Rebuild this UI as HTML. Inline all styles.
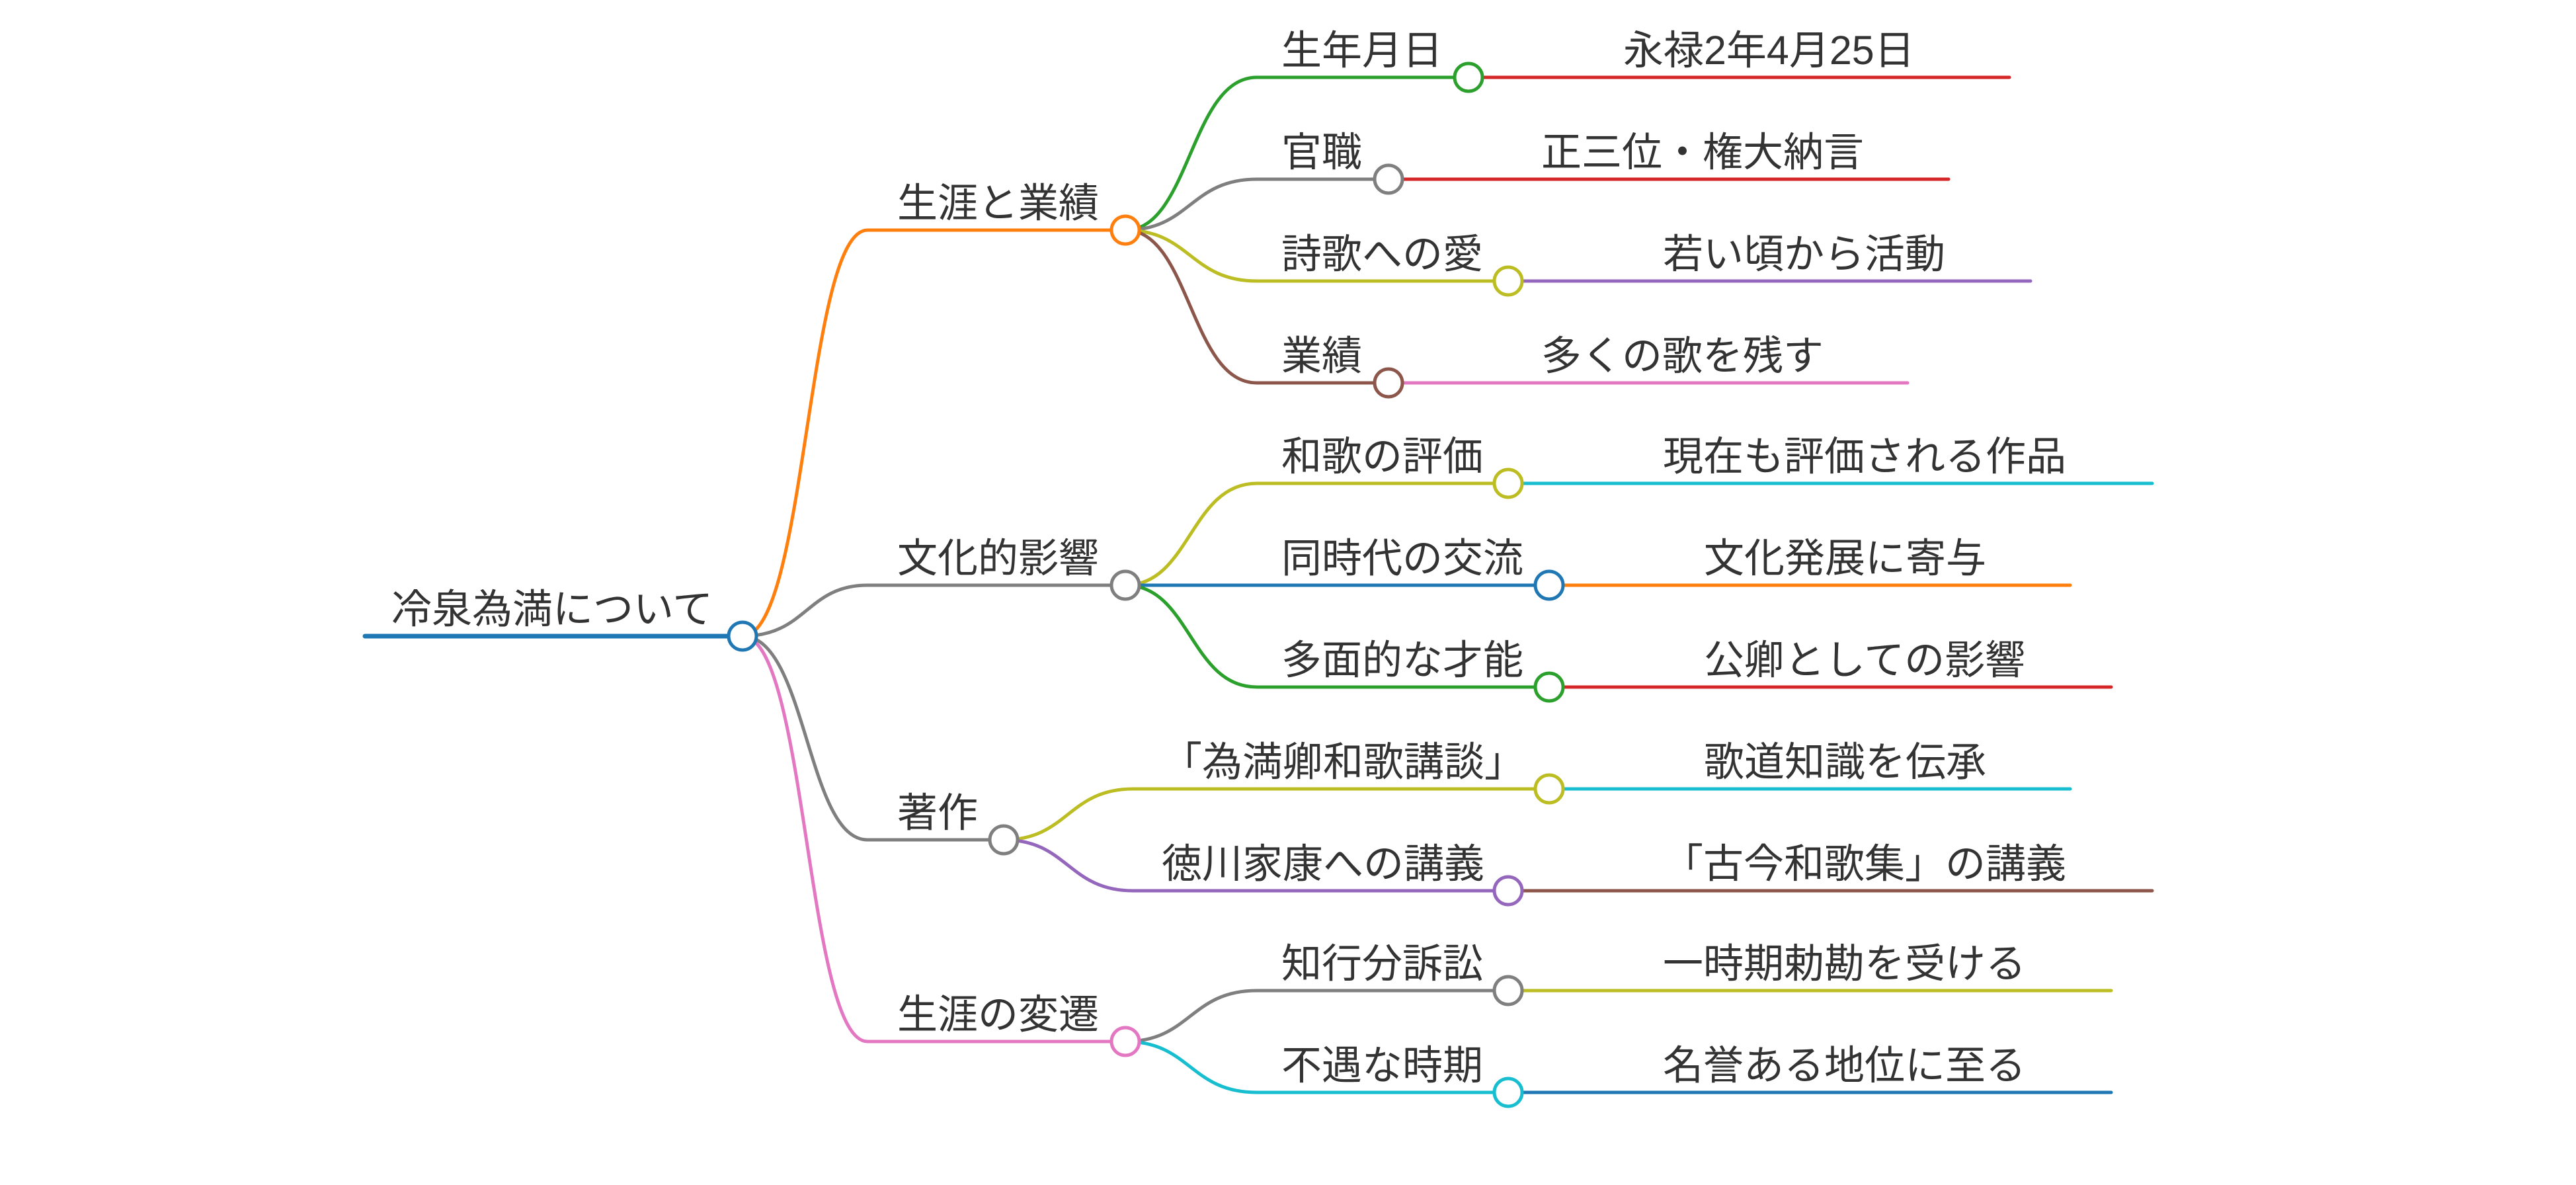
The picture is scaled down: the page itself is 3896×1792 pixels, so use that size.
<!DOCTYPE html>
<html><head><meta charset="utf-8"><style>
html,body{margin:0;padding:0;background:#fff}
svg{display:block}
text{font-family:"Liberation Sans","Noto Sans CJK JP",sans-serif;font-size:61px;fill:#333}
</style></head><body>
<svg width="3896" height="1792" viewBox="0 0 3896 1792" xmlns="http://www.w3.org/2000/svg">
<g fill="none" stroke-linecap="round">
<line x1="552" y1="962" x2="1123" y2="962" stroke="#1f77b4" stroke-width="7"/>
<path d="M1123,962 C1220,962 1220,348 1312,348 L1702,348" stroke="#ff7f0e" stroke-width="5"/>
<path d="M1123,962 C1220,962 1220,885 1312,885 L1702,885" stroke="#7f7f7f" stroke-width="5"/>
<path d="M1123,962 C1220,962 1220,1270 1312,1270 L1518,1270" stroke="#7f7f7f" stroke-width="5"/>
<path d="M1123,962 C1220,962 1220,1575 1312,1575 L1702,1575" stroke="#e377c2" stroke-width="5"/>
<path d="M1702,348 C1800,348 1800,117 1901,117 L2221,117" stroke="#2ca02c" stroke-width="5"/>
<path d="M1702,348 C1800,348 1800,271 1901,271 L2100,271" stroke="#7f7f7f" stroke-width="5"/>
<path d="M1702,348 C1800,348 1800,425 1901,425 L2281,425" stroke="#bcbd22" stroke-width="5"/>
<path d="M1702,348 C1800,348 1800,579 1901,579 L2100,579" stroke="#8c564b" stroke-width="5"/>
<path d="M1702,885 C1800,885 1800,731 1901,731 L2281,731" stroke="#bcbd22" stroke-width="5"/>
<path d="M1702,885 L2343,885" stroke="#1f77b4" stroke-width="5"/>
<path d="M1702,885 C1800,885 1800,1039 1901,1039 L2343,1039" stroke="#2ca02c" stroke-width="5"/>
<path d="M1518,1270 C1615,1270 1615,1193 1714,1193 L2343,1193" stroke="#bcbd22" stroke-width="5"/>
<path d="M1518,1270 C1615,1270 1615,1347 1714,1347 L2281,1347" stroke="#9467bd" stroke-width="5"/>
<path d="M1702,1575 C1800,1575 1800,1498 1901,1498 L2281,1498" stroke="#7f7f7f" stroke-width="5"/>
<path d="M1702,1575 C1800,1575 1800,1652 1901,1652 L2281,1652" stroke="#17becf" stroke-width="5"/>
<line x1="2221" y1="117" x2="3039" y2="117" stroke="#d62728" stroke-width="5"/>
<line x1="2100" y1="271" x2="2947" y2="271" stroke="#d62728" stroke-width="5"/>
<line x1="2281" y1="425" x2="3071" y2="425" stroke="#9467bd" stroke-width="5"/>
<line x1="2100" y1="579" x2="2885" y2="579" stroke="#e377c2" stroke-width="5"/>
<line x1="2281" y1="731" x2="3255" y2="731" stroke="#17becf" stroke-width="5"/>
<line x1="2343" y1="885" x2="3131" y2="885" stroke="#ff7f0e" stroke-width="5"/>
<line x1="2343" y1="1039" x2="3193" y2="1039" stroke="#d62728" stroke-width="5"/>
<line x1="2343" y1="1193" x2="3131" y2="1193" stroke="#17becf" stroke-width="5"/>
<line x1="2281" y1="1347" x2="3255" y2="1347" stroke="#8c564b" stroke-width="5"/>
<line x1="2281" y1="1498" x2="3193" y2="1498" stroke="#bcbd22" stroke-width="5"/>
<line x1="2281" y1="1652" x2="3193" y2="1652" stroke="#1f77b4" stroke-width="5"/>
</g>
<g fill="#fff" stroke-width="5">
<circle cx="1123" cy="962" r="21" stroke="#1f77b4"/>
<circle cx="1702" cy="348" r="21" stroke="#ff7f0e"/>
<circle cx="1702" cy="885" r="21" stroke="#7f7f7f"/>
<circle cx="1518" cy="1270" r="21" stroke="#7f7f7f"/>
<circle cx="1702" cy="1575" r="21" stroke="#e377c2"/>
<circle cx="2221" cy="117" r="21" stroke="#2ca02c"/>
<circle cx="2100" cy="271" r="21" stroke="#7f7f7f"/>
<circle cx="2281" cy="425" r="21" stroke="#bcbd22"/>
<circle cx="2100" cy="579" r="21" stroke="#8c564b"/>
<circle cx="2281" cy="731" r="21" stroke="#bcbd22"/>
<circle cx="2343" cy="885" r="21" stroke="#1f77b4"/>
<circle cx="2343" cy="1039" r="21" stroke="#2ca02c"/>
<circle cx="2343" cy="1193" r="21" stroke="#bcbd22"/>
<circle cx="2281" cy="1347" r="21" stroke="#9467bd"/>
<circle cx="2281" cy="1498" r="21" stroke="#7f7f7f"/>
<circle cx="2281" cy="1652" r="21" stroke="#17becf"/>
</g>
<g>
<text x="592" y="942">冷泉為満について</text>
<text x="1357" y="328">生涯と業績</text>
<text x="1357" y="865">文化的影響</text>
<text x="1357" y="1250">著作</text>
<text x="1357" y="1555">生涯の変遷</text>
<text x="1938" y="97">生年月日</text>
<text x="1938" y="251">官職</text>
<text x="1938" y="405">詩歌への愛</text>
<text x="1938" y="559">業績</text>
<text x="1938" y="711">和歌の評価</text>
<text x="1938" y="865">同時代の交流</text>
<text x="1938" y="1019">多面的な才能</text>
<text x="1757" y="1173">「為満卿和歌講談」</text>
<text x="1757" y="1327">徳川家康への講義</text>
<text x="1938" y="1478">知行分訴訟</text>
<text x="1938" y="1632">不遇な時期</text>
<text x="2455" y="97">永禄2年4月25日</text>
<text x="2331" y="251">正三位・権大納言</text>
<text x="2515" y="405">若い頃から活動</text>
<text x="2331" y="559">多くの歌を残す</text>
<text x="2515" y="711">現在も評価される作品</text>
<text x="2577" y="865">文化発展に寄与</text>
<text x="2577" y="1019">公卿としての影響</text>
<text x="2577" y="1173">歌道知識を伝承</text>
<text x="2515" y="1327">「古今和歌集」の講義</text>
<text x="2515" y="1478">一時期勅勘を受ける</text>
<text x="2515" y="1632">名誉ある地位に至る</text>
</g>
</svg>
</body></html>
